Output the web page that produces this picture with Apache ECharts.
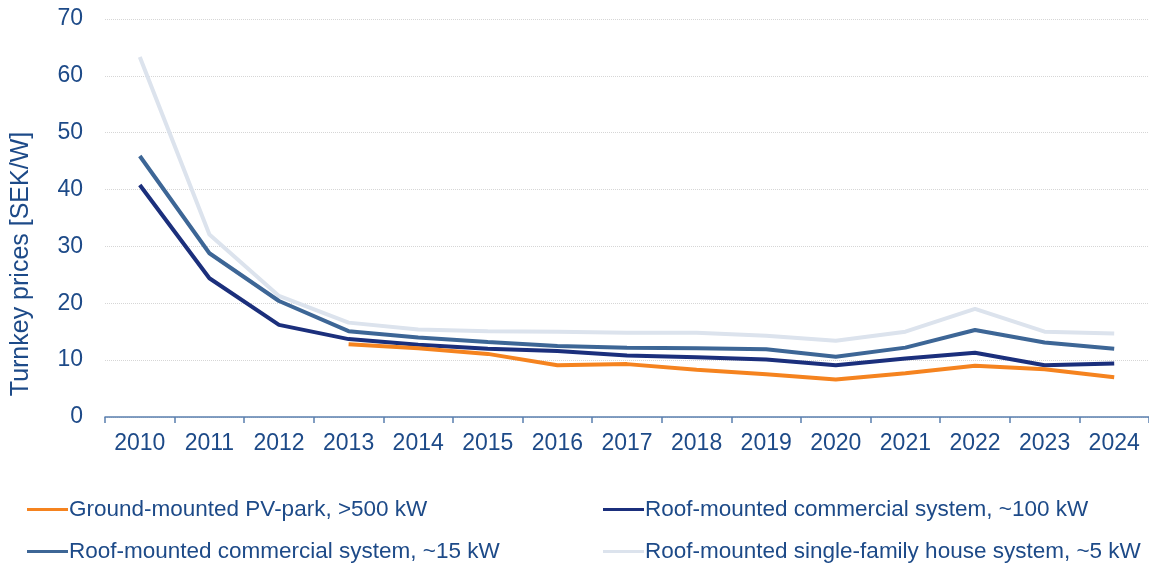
<!DOCTYPE html>
<html>
<head>
<meta charset="utf-8">
<title>Turnkey prices</title>
<script src="https://cdn.jsdelivr.net/npm/echarts@6/dist/echarts.min.js"></script>
<style>
    html, body { margin: 0; padding: 0; background: #fff; }
    #main { width: 1149px; height: 565px; }
</style>
</head>
<body>
<div id="main"></div>
<script>
// 年份与各系统价格 (SEK/W)
var years = ['2010','2011','2012','2013','2014','2015','2016','2017','2018','2019','2020','2021','2022','2023','2024'];
var groundPark = [null, null, null, 12.8, 12.1, 11.1, 9.1, 9.3, 8.3, 7.5, 6.6, 7.7, 9.0, 8.4, 7.0];
var roofCommercial100 = [40.8, 24.4, 16.2, 13.7, 12.7, 12.0, 11.6, 10.8, 10.5, 10.1, 9.1, 10.3, 11.3, 9.1, 9.4];
var roofCommercial15 = [45.9, 28.8, 20.4, 15.1, 14.0, 13.2, 12.5, 12.2, 12.1, 11.9, 10.6, 12.2, 15.3, 13.1, 12.0];
var roofHouse5 = [63.3, 32.1, 21.3, 16.6, 15.4, 15.1, 15.0, 14.8, 14.8, 14.3, 13.4, 15.0, 19.0, 15.0, 14.7];
var seriesNames = [
    'Ground-mounted PV-park, >500 kW',
    'Roof-mounted commercial system, ~100 kW',
    'Roof-mounted commercial system, ~15 kW',
    'Roof-mounted single-family house system, ~5 kW'
];
var yTicks = [0, 10, 20, 30, 40, 50, 60, 70];
var yTitle = 'Turnkey prices [SEK/W]';

var textColor = '#1d4a88';
var colors = ['#f5831f', '#1b2f7c', '#3d6696', '#dce3ed'];
var font = 'Liberation Sans, Arial, sans-serif';

// 每个图例单独定位，模仿两行两列的排版
function legendAt(name, left, top) {
    return {
        data: [name],
        left: left,
        top: top,
        icon: 'rect',
        itemWidth: 41,
        itemHeight: 3,
        textStyle: { color: textColor, fontSize: 22.5, fontFamily: font, padding: [0, 0, 0, -4] }
    };
}

function lineSeries(name, data, color) {
    return {
        name: name,
        type: 'line',
        data: data,
        symbol: 'none',
        color: color,
        lineStyle: { width: 4, color: color },
        connectNulls: false
    };
}

var myChart = echarts.init(document.getElementById('main'));
myChart.setOption({
    animation: false,
    textStyle: { fontFamily: font },
    grid: { left: 105, top: 19, width: 1048, height: 398, containLabel: false },
    legend: [
        legendAt(seriesNames[0], 22, 493),
        legendAt(seriesNames[1], 598, 493),
        legendAt(seriesNames[2], 22, 535),
        legendAt(seriesNames[3], 598, 535)
    ],
    graphic: [{
        type: 'text',
        x: 21,
        y: 264,
        rotation: Math.PI / 2,
        style: {
            text: yTitle,
            fill: textColor,
            font: '25px ' + font,
            align: 'center',
            verticalAlign: 'middle'
        }
    }],
    xAxis: {
        type: 'category',
        data: years,
        boundaryGap: true,
        axisLine: { lineStyle: { color: '#5a7fae', width: 1.5 } },
        axisTick: { show: true, length: 6, lineStyle: { color: '#5a7fae', width: 1.5 } },
        axisLabel: { color: textColor, fontSize: 23, margin: 15, fontFamily: font }
    },
    yAxis: {
        type: 'value',
        min: yTicks[0],
        max: yTicks[yTicks.length - 1],
        interval: 10,
        axisLine: { show: false },
        axisTick: { show: false },
        axisLabel: { color: textColor, fontSize: 23, margin: 22, fontFamily: font },
        splitLine: { lineStyle: { color: '#d6d6d6', type: 'dotted', width: 1 } }
    },
    series: [
        lineSeries(seriesNames[3], roofHouse5, colors[3]),
        lineSeries(seriesNames[2], roofCommercial15, colors[2]),
        lineSeries(seriesNames[1], roofCommercial100, colors[1]),
        lineSeries(seriesNames[0], groundPark, colors[0])
    ]
});
</script>
</body>
</html>
